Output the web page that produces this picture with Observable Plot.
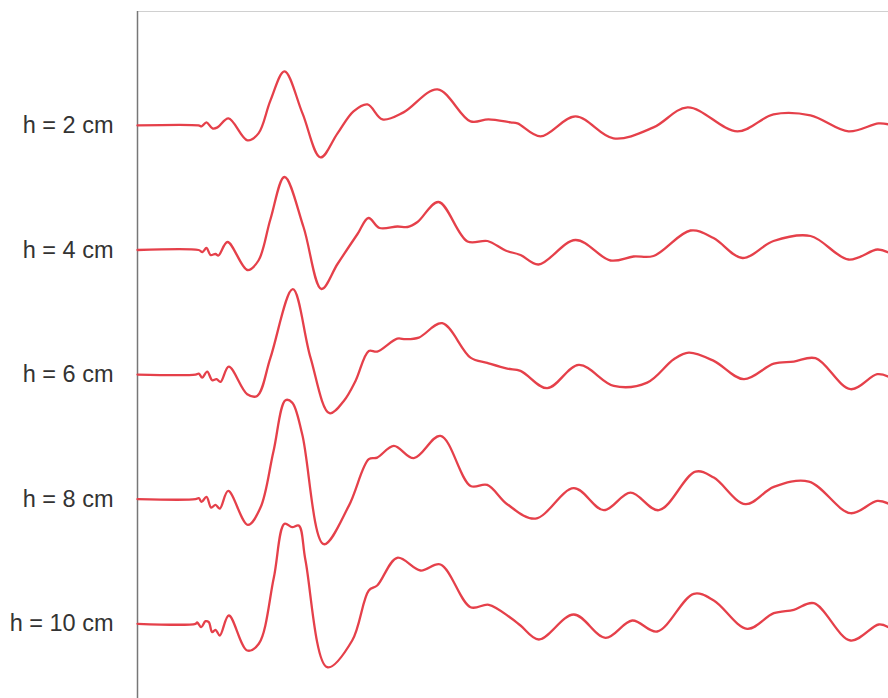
<!DOCTYPE html>
<html>
<head>
<meta charset="utf-8">
<script src="https://cdn.jsdelivr.net/npm/d3@7"></script>
<script src="https://cdn.jsdelivr.net/npm/@observablehq/plot@0.6"></script>
<style>
  html, body { margin: 0; padding: 0; background: #fff; }
</style>
</head>
<body>
<div id="chart"></div>
<script>
// Trace labels (top to bottom)
const labels = ["h = 2 cm", "h = 4 cm", "h = 6 cm", "h = 8 cm", "h = 10 cm"];

// Each trace: [time, displacement]
const trace2cm = [[0,0],[61,0],[64,-1],[69,3],[75,-3],[80,-2],[91,7],[110,-15],[121,-8],[133,25],[147,54],[165,12],[183,-32],[200,-8],[216,14],[230,21],[245,6],[266,13],[300,36],[333,4],[351,6],[373,3],[380,2],[403,-11],[438,9],[476,-13],[516,-2],[550,18],[600,-6],[636,11],[673,10],[711,-6],[741,2],[751,1]];

const trace4cm = [[0,0],[61,0],[65,-2],[69,2],[73,-5],[78,-4],[81,-5.5],[90,8],[110,-20],[121,-10.5],[133,31],[147,73],[166,23],[184,-39],[200,-14],[220,16],[231,32],[242,22],[260,23.5],[270,23],[280,28],[301,48],[330,8.5],[350,9],[368,-0.5],[383,-5],[401,-14.5],[438,10],[473,-10.5],[496,-6.5],[516,-6],[553,19.5],[576,12],[605,-8],[636,9],[673,14],[711,-9.5],[740,0.5],[751,-2.5]];

const trace6cm = [[0,0],[58,0],[61.3,1],[64.7,-3],[69.7,3],[74.7,-5.6],[79,-4.6],[83,-7.3],[91.3,8],[109.7,-19.6],[119.7,-21.3],[133,17],[155.3,85.4],[173,17],[192,-38.6],[206.3,-26.3],[218,-6.3],[231.3,23.7],[239.7,23],[259.7,36],[268,35.4],[281.3,37],[304.7,51.4],[333,17],[349.7,11.7],[369.7,6],[383,3.7],[409.7,-13.6],[441.3,9.7],[476.3,-11.3],[509.7,-8],[536.3,15.4],[551.3,22],[576.3,13.7],[606.3,-4.6],[636.3,11],[656.3,13],[678,16.4],[713,-14.6],[739.7,0.4],[751,-2]];

const trace8cm = [[0,0],[58,0],[61.3,1],[64,-2.7],[69,2.3],[73.7,-8.4],[78,-5.7],[82.3,-9.4],[90.7,8.3],[110.3,-25.7],[123,-8.4],[136,48],[148,99],[154.7,96.6],[164.7,65],[186.3,-45],[211.3,-6.7],[231.3,40],[239.7,41.6],[256.3,53.3],[276.3,41],[303,63.3],[333,13.3],[349.7,14.3],[369.7,-5],[398,-19.4],[436.3,11],[466.3,-11],[493,6.6],[521.3,-11],[558,27.6],[576.3,21.6],[608,-5],[636.3,12.3],[671.3,17.6],[713,-14],[739.7,-1.7],[751,-4.4]];

const trace10cm = [[0,0],[58,0],[59.7,1.3],[63.7,-3.4],[68,2.6],[71.3,1.6],[74.7,-8.4],[78,-6],[82.3,-11.7],[91.3,8.3],[109.7,-26.7],[121.3,-20],[136.3,46],[147,100],[154.7,96.6],[161.3,98.3],[168,63.3],[189.7,-43.4],[214.7,-16.7],[231.3,33.3],[239.7,38.3],[259.7,66],[283,53.3],[303,59.3],[333,16.6],[351.3,19],[373,6],[383,-1.7],[401.3,-15.7],[436.3,9.3],[468,-14],[494.7,3.3],[519.7,-7.7],[556.3,30],[576.3,23.3],[609.7,-5],[636.3,10.6],[656.3,14],[676.3,20.6],[713,-16.7],[741.3,-0.7],[751,-3.4]];

const traces = [trace2cm, trace4cm, trace6cm, trace8cm, trace10cm];
const spacing = 124.6;
const n = labels.length;
const baselines = labels.map((_, i) => (n - 1 - i) * spacing);

const rows = traces.flatMap((tr, i) =>
  tr.map(([t, d]) => ({ t, y: baselines[i] + d, series: labels[i] }))
);

const yMax = 612.3, yMin = -74.7;

const chart = Plot.plot({
  width: 888,
  height: 698,
  marginLeft: 137,
  marginRight: 0,
  marginTop: 11,
  marginBottom: 0,
  style: { fontFamily: "'Liberation Sans', Arial, sans-serif", background: "#fff" },
  x: { domain: [0, 751], axis: null },
  y: { domain: [yMin, yMax], axis: null },
  marks: [
    Plot.ruleY([yMax], { stroke: "#d0d0d0", strokeWidth: 1.2 }),
    Plot.ruleX([0], { stroke: "#777", strokeWidth: 1.5 }),
    Plot.axisY(baselines, {
      label: null,
      tickSize: 0,
      tickPadding: 24,
      fontSize: 23.5,
      fill: "#333",
      tickFormat: (d) => labels[baselines.indexOf(d)]
    }),
    Plot.line(rows, {
      x: "t", y: "y", z: "series",
      stroke: "#e5404a", strokeWidth: 2.3,
      curve: "catmull-rom"
    })
  ]
});

document.getElementById("chart").appendChild(chart);
</script>
</body>
</html>
